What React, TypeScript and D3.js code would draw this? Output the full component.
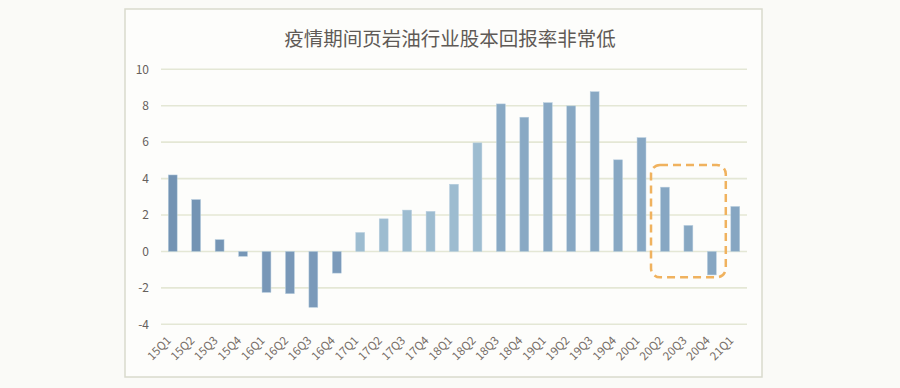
import React from "react";
import * as d3 from "d3";

const categories = [
  "15Q1","15Q2","15Q3","15Q4",
  "16Q1","16Q2","16Q3","16Q4",
  "17Q1","17Q2","17Q3","17Q4",
  "18Q1","18Q2","18Q3","18Q4",
  "19Q1","19Q2","19Q3","19Q4",
  "20Q1","20Q2","20Q3","20Q4",
  "21Q1",
];
const values = [
  4.2, 2.85, 0.65, -0.27,
  -2.25, -2.32, -3.07, -1.19,
  1.04, 1.79, 2.27, 2.2,
  3.69, 5.96, 8.1, 7.37,
  8.17, 7.99, 8.77, 5.03,
  6.25, 3.53, 1.43, -1.29,
  2.47,
];
const yTicks = [-4, -2, 0, 2, 4, 6, 8, 10];
const title = "疫情期间页岩油行业股本回报率非常低";
const highlight = ["20Q2", "20Q4"];
const highlightRange = [-1.42, 4.75];

const W = 900, H = 388;
const plot = { left: 161, right: 747, top: 69.3, bottom: 324.3 };

export default function App() {
  const x = d3.scaleBand<string>().domain(categories).range([plot.left, plot.right]).paddingInner(0.62).paddingOuter(0.31);
  const y = d3.scaleLinear().domain([-4, 10]).range([plot.bottom, plot.top]);
  const colorIdx = d3.scaleLinear<string>()
    .domain([0, 7, 8, 13, 14, 24])
    .range(["#7393b3", "#7b9aba", "#9dbcd0", "#9dbcd0", "#89a9c4", "#86a6c2"])
    .clamp(true);

  const bx0 = (x(highlight[0]) as number) - 9.5;
  const bx1 = (x(highlight[1]) as number) + x.bandwidth() + 9.5;
  const by0 = y(highlightRange[1]);
  const by1 = y(highlightRange[0]);

  const font = "'Noto Sans CJK SC', 'Noto Sans', sans-serif";
  return (
    <svg width={W} height={H} style={{ position: "absolute", left: 0, top: 0, background: "#fafaf7" }} fontFamily={font}>
      <rect x={125} y={9} width={637} height={368} fill="#fdfdfb" stroke="#d9dacd" strokeWidth={1.5} />
      <text x={450} y={46} textAnchor="middle" fontSize={19.5} fill="#5f5a56">{title}</text>
      {yTicks.map((t) => (
        <g key={t}>
          <line x1={plot.left} x2={plot.right} y1={y(t)} y2={y(t)} stroke="#e4e7d5" strokeWidth={1.6} />
          <text x={149} y={y(t)} dy="0.35em" textAnchor="end" fontSize={12} fill="#66605c">{t}</text>
        </g>
      ))}
      {categories.map((c, i) => {
        const v = values[i];
        const x0 = x(c) as number;
        return (
          <rect key={c} x={x0} width={x.bandwidth()} y={y(Math.max(0, v))} height={Math.abs(y(v) - y(0))}
            fill={colorIdx(i)} stroke="#b9cfe0" strokeWidth={0.5} />
        );
      })}
      {categories.map((c) => {
        const cx = (x(c) as number) + x.bandwidth() / 2;
        return (
          <text key={c} transform={`translate(${cx - 1},${plot.bottom + 17}) rotate(-45)`} textAnchor="end" fontSize={11.5} fill="#756c66">{c}</text>
        );
      })}
      <rect x={bx0} y={by0} width={bx1 - bx0} height={by1 - by0} rx={9} ry={9} fill="none" stroke="#f0b25e" strokeWidth={2.5} strokeDasharray="8 5" />
    </svg>
  );
}
